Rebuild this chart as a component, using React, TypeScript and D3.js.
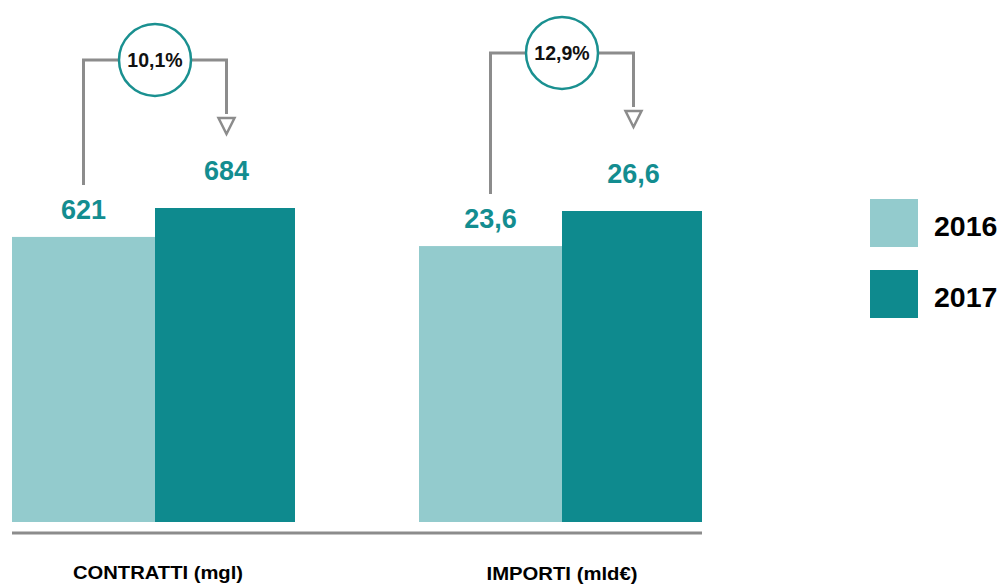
import React from "react";
import * as d3 from "d3";

const categories = ["CONTRATTI (mgl)", "IMPORTI (mld€)"];
const years = ["2016", "2017"];
const values2016 = [621, 23.6];
const values2017 = [684, 26.6];
const valueLabels2016 = ["621", "23,6"];
const valueLabels2017 = ["684", "26,6"];
const changeLabels = ["10,1%", "12,9%"];

const W = 1002;
const H = 585;
const baseY = 522;
const colors = ["#93cbcd", "#0e8a8e"];
const gray = "#8c8c8c";
const font = "'Liberation Sans', Arial, Helvetica, sans-serif";

export default function App() {
  const groupX = [12, 419];
  const bw = 143;
  const x1 = d3.scaleBand<string>().domain(years).range([0, bw * 2]);
  const topY = [208, 211];
  const yScales = categories.map((_, i) =>
    d3.scaleLinear().domain([0, Math.max(values2016[i], values2017[i])]).range([baseY, topY[i]])
  );
  const bubbleY = [60, 53];
  const labelLen = [170, 151];
  const labelX = [158, 562];

  return (
    <svg width={W} height={H} style={{ position: "absolute", left: 0, top: 0 }} fontFamily={font}>
      {categories.map((c, i) => {
        const gx = groupX[i];
        const y = yScales[i];
        const xa = gx + (x1("2016") as number);
        const xb = gx + (x1("2017") as number);
        const ca = xa + bw / 2;
        const cb = xb + bw / 2;
        const ya = y(values2016[i]);
        const yb = y(values2017[i]);
        const by = bubbleY[i];
        const cx = (ca + cb) / 2;
        const r = 36;
        const triTop = by + 54;
        return (
          <g key={c}>
            <rect x={xa} y={ya} width={bw} height={baseY - ya} fill={colors[0]} />
            <rect x={xb} y={yb} width={bw - 3} height={baseY - yb} fill={colors[1]} />
            <text x={ca} y={ya - 18} textAnchor="middle" fontSize={27} fontWeight="bold" fill="#138d90">
              {valueLabels2016[i]}
            </text>
            <text x={cb} y={yb - 28} textAnchor="middle" fontSize={27} fontWeight="bold" fill="#138d90">
              {valueLabels2017[i]}
            </text>
            <path
              d={`M${ca},${ya - 52} V${by} H${cx - r} M${cx + r},${by} H${cb} V${triTop}`}
              fill="none"
              stroke={gray}
              strokeWidth={3}
            />
            <path
              d={`M${cb - 8},${triTop + 4} L${cb + 8},${triTop + 4} L${cb},${triTop + 20} Z`}
              fill="white"
              stroke={gray}
              strokeWidth={2.5}
              strokeLinejoin="miter"
            />
            <circle cx={cx} cy={by} r={r} fill="white" stroke="#1a9090" strokeWidth={2.5} />
            <text x={cx} y={by + 7} textAnchor="middle" fontSize={19.5} fontWeight="bold" fill="#111">
              {changeLabels[i]}
            </text>
            <text
              x={labelX[i]}
              y={i === 0 ? 579 : 580}
              textAnchor="middle"
              fontSize={19}
              fontWeight="bold"
              fill="#000"
              textLength={labelLen[i]}
              lengthAdjust="spacingAndGlyphs"
            >
              {c}
            </text>
          </g>
        );
      })}
      <line x1={12} x2={702} y1={533} y2={533} stroke={gray} strokeWidth={3} />
      {years.map((yr, i) => (
        <g key={yr}>
          <rect x={870} y={199 + i * 71} width={48} height={48} fill={colors[i]} />
          <text x={934} y={236 + i * 71} fontSize={28.5} fontWeight="bold" fill="#000">
            {yr}
          </text>
        </g>
      ))}
    </svg>
  );
}
